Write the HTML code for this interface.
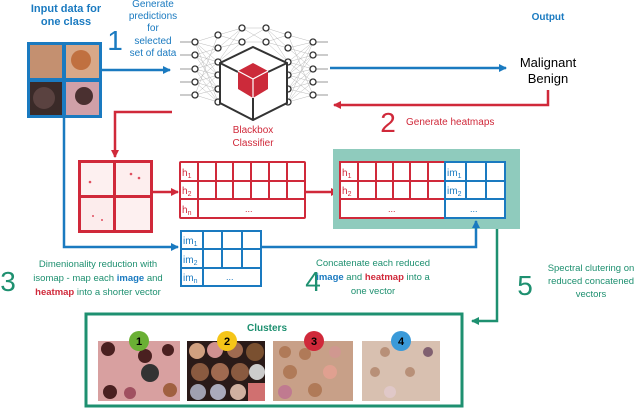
<!DOCTYPE html>
<html><head><meta charset="utf-8"><style>
body{margin:0;background:#fff}
svg{display:block;font-family:"Liberation Sans",sans-serif}
</style></head><body>
<svg width="640" height="408" viewBox="0 0 640 408" xmlns="http://www.w3.org/2000/svg">
<defs>
<marker id="ab" markerWidth="8" markerHeight="8" refX="7" refY="4" orient="auto" markerUnits="userSpaceOnUse"><path d="M0,0 L8,4 L0,8 Z" fill="#1a7ac0"/></marker>
<marker id="ar" markerWidth="8" markerHeight="8" refX="7" refY="4" orient="auto" markerUnits="userSpaceOnUse"><path d="M0,0 L8,4 L0,8 Z" fill="#d0293a"/></marker>
<marker id="ag" markerWidth="8" markerHeight="8" refX="7" refY="4" orient="auto" markerUnits="userSpaceOnUse"><path d="M0,0 L8,4 L0,8 Z" fill="#1e9070"/></marker>
</defs>

<!-- Input -->
<text x="66" y="12" fill="#1a7ac0" font-size="11" font-weight="bold" text-anchor="middle">Input data for</text>
<text x="66" y="25" fill="#1a7ac0" font-size="11" font-weight="bold" text-anchor="middle">one class</text>
<rect x="27" y="42" width="75" height="76" fill="#1a7ac0"/>
<rect x="30" y="45" width="32" height="33" fill="#c49070"/>
<rect x="66" y="45" width="33" height="33" fill="#d8a888"/>
<circle cx="81" cy="60" r="10" fill="#c07040"/>
<rect x="30" y="82" width="32" height="33" fill="#3a2a28"/>
<circle cx="44" cy="98" r="11" fill="#5a4240"/>
<rect x="66" y="82" width="33" height="33" fill="#d0a0a8"/>
<circle cx="84" cy="96" r="9" fill="#4a3030"/>

<text x="115" y="50" fill="#1a7ac0" font-size="28" text-anchor="middle">1</text>
<g fill="#1a7ac0" font-size="10" text-anchor="middle">
<text x="153" y="7">Generate</text><text x="153" y="19">predictions</text><text x="153" y="31">for</text><text x="153" y="44">selected</text><text x="153" y="56">set of data</text>
</g>
<line x1="102" y1="70" x2="170" y2="70" stroke="#1a7ac0" stroke-width="2.5" marker-end="url(#ab)"/>

<!-- Network -->
<g stroke="#bbb" stroke-width="0.5">
<path d="M195,42L218,35M195,42L218,48M195,42L218,62M195,42L218,75M195,55L218,48M195,55L218,62M195,55L218,75M195,55L218,89M195,69L218,48M195,69L218,62M195,69L218,75M195,69L218,89M195,69L218,102M195,82L218,62M195,82L218,75M195,82L218,89M195,82L218,102M195,95L218,75M195,95L218,89M195,95L218,102M195,95L218,35M195,42L218,102"/>
<path d="M313,42L288,35M313,42L288,48M313,42L288,62M313,42L288,75M313,55L288,48M313,55L288,62M313,55L288,75M313,55L288,89M313,69L288,48M313,69L288,62M313,69L288,75M313,69L288,89M313,69L288,102M313,82L288,62M313,82L288,75M313,82L288,89M313,82L288,102M313,95L288,75M313,95L288,89M313,95L288,102M313,95L288,35M313,42L288,102"/>
<path d="M218,35L242,28M218,35L242,42M218,48L242,28M218,48L242,42M218,62L242,28M218,62L242,42M242,28L266,28M242,28L266,42M242,42L266,28M242,42L266,42M266,28L288,35M266,28L288,48M266,42L288,35M266,42L288,48M266,28L288,62M266,42L288,62"/>
<path d="M180,42H192M180,55H192M180,69H192M180,82H192M180,95H192M316,42H328M316,55H328M316,69H328M316,82H328M316,95H328" stroke="#999" stroke-width="1"/>
</g>
<g fill="#fff" stroke="#333" stroke-width="1.3">
<circle cx="195" cy="42" r="3"/><circle cx="195" cy="55" r="3"/><circle cx="195" cy="69" r="3"/><circle cx="195" cy="82" r="3"/><circle cx="195" cy="95" r="3"/>
<circle cx="313" cy="42" r="3"/><circle cx="313" cy="55" r="3"/><circle cx="313" cy="69" r="3"/><circle cx="313" cy="82" r="3"/><circle cx="313" cy="95" r="3"/>
<circle cx="218" cy="35" r="3"/><circle cx="218" cy="48" r="3"/><circle cx="218" cy="62" r="3"/><circle cx="218" cy="75" r="3"/><circle cx="218" cy="89" r="3"/><circle cx="218" cy="102" r="3"/>
<circle cx="288" cy="35" r="3"/><circle cx="288" cy="48" r="3"/><circle cx="288" cy="62" r="3"/><circle cx="288" cy="75" r="3"/><circle cx="288" cy="89" r="3"/><circle cx="288" cy="102" r="3"/>
<circle cx="242" cy="28" r="3"/><circle cx="242" cy="42" r="3"/><circle cx="266" cy="28" r="3"/><circle cx="266" cy="42" r="3"/>
</g>
<polygon points="253,47 287,63 287,103 253,120 220,103 220,63" fill="#fff" stroke="#333" stroke-width="2"/>
<g stroke="#333" stroke-width="2"><line x1="220" y1="63" x2="238" y2="72"/><line x1="287" y1="63" x2="268" y2="72"/><line x1="253" y1="120" x2="253" y2="98"/></g>
<polygon points="253,63 268,71 268,89 253,98 238,89 238,71" fill="#cc2a3a"/>
<g stroke="#fff" stroke-width="1.2"><line x1="238" y1="71" x2="253" y2="79"/><line x1="268" y1="71" x2="253" y2="79"/><line x1="253" y1="79" x2="253" y2="98"/></g>
<text x="253" y="133" fill="#d0293a" font-size="10" text-anchor="middle">Blackbox</text>
<text x="253" y="146" fill="#d0293a" font-size="10" text-anchor="middle">Classifier</text>

<!-- Output -->
<line x1="330" y1="68" x2="506" y2="68" stroke="#1a7ac0" stroke-width="2.5" marker-end="url(#ab)"/>
<text x="548" y="20" fill="#1a7ac0" font-size="10" font-weight="bold" text-anchor="middle">Output</text>
<text x="548" y="67" font-size="13" text-anchor="middle">Malignant</text>
<text x="548" y="83" font-size="13" text-anchor="middle">Benign</text>
<polyline points="548,90 548,105 334,105" fill="none" stroke="#d0293a" stroke-width="2.5" marker-end="url(#ar)"/>
<text x="388" y="132" fill="#d0293a" font-size="28" text-anchor="middle">2</text>
<text x="406" y="125" fill="#d0293a" font-size="10">Generate heatmaps</text>

<!-- heatmaps -->
<polyline points="172,112 115,112 115,157" fill="none" stroke="#d0293a" stroke-width="2.5" marker-end="url(#ar)"/>
<rect x="78" y="160" width="75" height="73" fill="#d0293a"/>
<rect x="81" y="163" width="32" height="32" fill="#fdf0f0"/><rect x="116" y="163" width="34" height="32" fill="#fdeeee"/>
<rect x="81" y="198" width="32" height="32" fill="#fcecec"/><rect x="116" y="198" width="34" height="32" fill="#fdf0f0"/>
<g fill="#e05060"><circle cx="90" cy="182" r="1.3"/><circle cx="131" cy="174" r="1.3"/><circle cx="139" cy="178" r="1.3"/><circle cx="93" cy="216" r="1"/><circle cx="102" cy="220" r="1"/></g>
<line x1="153" y1="192" x2="178" y2="192" stroke="#d0293a" stroke-width="2.5" marker-end="url(#ar)"/>

<!-- h table -->
<g fill="none" stroke="#d0293a" stroke-width="2">
<rect x="180" y="162" width="125" height="56" rx="1"/>
<line x1="180" y1="181" x2="305" y2="181"/><line x1="180" y1="199" x2="305" y2="199"/>
<line x1="198" y1="162" x2="198" y2="218"/>
<path d="M216,162V199M233,162V199M251,162V199M269,162V199M287,162V199"/>
</g>
<g fill="#d0293a" font-size="10"><text x="182" y="176">h<tspan font-size="7" dy="2">1</tspan></text><text x="182" y="194">h<tspan font-size="7" dy="2">2</tspan></text><text x="182" y="213">h<tspan font-size="7" dy="2">n</tspan></text><text x="245" y="212" font-size="9">...</text></g>
<line x1="305" y1="192" x2="338" y2="192" stroke="#d0293a" stroke-width="2.5" marker-end="url(#ar)"/>

<!-- teal box -->
<rect x="333" y="149" width="187" height="80" fill="#8fcbbd"/>
<rect x="340" y="162" width="165" height="56" fill="#fff"/>
<g fill="none" stroke="#d0293a" stroke-width="2">
<path d="M445,162H340V218H445M340,181H445M340,199H445M358,162V199M376,162V199M393,162V199M410,162V199M428,162V199"/>
</g>
<g fill="none" stroke="#1a7ac0" stroke-width="2">
<path d="M445,162H505V218H445ZM445,181H505M445,199H505M466,162V199M486,162V199"/>
</g>
<g fill="#d0293a" font-size="10"><text x="342" y="176">h<tspan font-size="7" dy="2">1</tspan></text><text x="342" y="194">h<tspan font-size="7" dy="2">2</tspan></text><text x="388" y="212" font-size="9">...</text></g>
<g fill="#1a7ac0" font-size="10"><text x="447" y="176">im<tspan font-size="7" dy="2">1</tspan></text><text x="447" y="194">im<tspan font-size="7" dy="2">2</tspan></text><text x="470" y="212" font-size="9">...</text></g>

<!-- im table -->
<polyline points="64,118 64,247 178,247" fill="none" stroke="#1a7ac0" stroke-width="2.5" marker-end="url(#ab)"/>
<g fill="none" stroke="#1a7ac0" stroke-width="2">
<rect x="181" y="231" width="80" height="55"/>
<path d="M181,249H261M181,268H261M203,231V286M222,231V268M242,231V268"/>
</g>
<g fill="#1a7ac0" font-size="10"><text x="183" y="244">im<tspan font-size="7" dy="2">1</tspan></text><text x="183" y="263">im<tspan font-size="7" dy="2">2</tspan></text><text x="183" y="281">im<tspan font-size="7" dy="2">n</tspan></text><text x="226" y="280" font-size="9">...</text></g>
<polyline points="261,247 476,247 476,221" fill="none" stroke="#1a7ac0" stroke-width="2.5" marker-end="url(#ab)"/>

<!-- step texts -->
<text x="8" y="291" fill="#1e9070" font-size="28" text-anchor="middle">3</text>
<g font-size="9.5" fill="#1e9070" text-anchor="middle">
<text x="98" y="267">Dimenionality reduction with</text>
<text x="98" y="281">isomap - map each <tspan fill="#1a7ac0" font-weight="bold">image</tspan> and</text>
<text x="98" y="295"><tspan fill="#d0293a" font-weight="bold">heatmap</tspan> into a shorter vector</text>
</g>
<text x="313" y="291" fill="#1e9070" font-size="28" text-anchor="middle">4</text>
<g font-size="9.5" fill="#1e9070" text-anchor="middle">
<text x="373" y="266">Concatenate each reduced</text>
<text x="373" y="280"><tspan fill="#1a7ac0" font-weight="bold">image</tspan> and <tspan fill="#d0293a" font-weight="bold">heatmap</tspan> into a</text>
<text x="373" y="294">one vector</text>
</g>
<text x="525" y="295" fill="#1e9070" font-size="28" text-anchor="middle">5</text>
<g font-size="9.5" fill="#1e9070" text-anchor="middle">
<text x="591" y="271">Spectral clutering on</text>
<text x="591" y="284">reduced concatened</text>
<text x="591" y="297">vectors</text>
</g>
<polyline points="497,229 497,321 472,321" fill="none" stroke="#1e9070" stroke-width="2.5" marker-end="url(#ag)"/>

<!-- clusters -->
<rect x="86" y="314" width="376" height="92" fill="none" stroke="#1e9070" stroke-width="3"/>
<text x="267" y="331" fill="#1e9070" font-size="10" font-weight="bold" text-anchor="middle">Clusters</text>
<rect x="98" y="341" width="82" height="60" fill="#d8a0a0"/>
<g fill="#4a2020"><circle cx="108" cy="349" r="7"/><circle cx="145" cy="356" r="7"/><circle cx="168" cy="350" r="6"/><circle cx="150" cy="373" r="9" fill="#333"/><circle cx="110" cy="392" r="7"/><circle cx="130" cy="393" r="6" fill="#a05060"/><circle cx="170" cy="390" r="7" fill="#a06040"/></g>
<rect x="187" y="341" width="78" height="60" fill="#2a1a18"/>
<g fill="#a06a50"><circle cx="197" cy="351" r="8" fill="#d0a080"/><circle cx="215" cy="350" r="8" fill="#d09090"/><circle cx="235" cy="350" r="8"/><circle cx="255" cy="352" r="9" fill="#7a5030"/><circle cx="200" cy="372" r="9" fill="#8a5a40"/><circle cx="220" cy="372" r="9"/><circle cx="240" cy="372" r="9" fill="#8a5a40"/><circle cx="257" cy="372" r="8" fill="#ccc"/><circle cx="198" cy="392" r="8" fill="#a0a0b0"/><circle cx="218" cy="392" r="8" fill="#aab"/><circle cx="238" cy="392" r="8" fill="#d0b0a0"/><rect x="248" y="383" width="17" height="18" fill="#d07070"/></g>
<rect x="273" y="341" width="80" height="60" fill="#c8a088"/>
<g fill="#b07a58"><circle cx="285" cy="352" r="6"/><circle cx="305" cy="354" r="6"/><circle cx="335" cy="352" r="6" fill="#d09890"/><circle cx="290" cy="372" r="7"/><circle cx="330" cy="372" r="7" fill="#e0a090"/><circle cx="285" cy="392" r="7" fill="#c07a90"/><circle cx="315" cy="390" r="7"/></g>
<rect x="362" y="341" width="78" height="60" fill="#d8c0b0"/>
<g fill="#b89078"><circle cx="385" cy="352" r="5"/><circle cx="428" cy="352" r="5" fill="#806070"/><circle cx="375" cy="372" r="5"/><circle cx="410" cy="372" r="5"/><circle cx="390" cy="392" r="6" fill="#e0c8c8"/></g>
<circle cx="139" cy="341" r="10" fill="#6ab034"/><text x="139" y="345" font-size="11" font-weight="bold" text-anchor="middle">1</text>
<circle cx="227" cy="341" r="10" fill="#f5c518"/><text x="227" y="345" font-size="11" font-weight="bold" text-anchor="middle">2</text>
<circle cx="314" cy="341" r="10" fill="#d0293a"/><text x="314" y="345" font-size="11" font-weight="bold" text-anchor="middle">3</text>
<circle cx="401" cy="341" r="10" fill="#3a9ad9"/><text x="401" y="345" font-size="11" font-weight="bold" text-anchor="middle">4</text>
</svg>
</body></html>
